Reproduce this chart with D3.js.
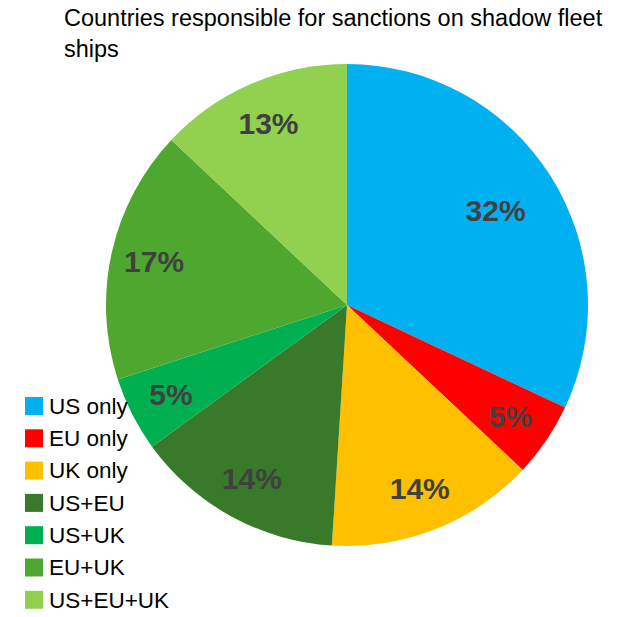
<!DOCTYPE html>
<html><head><meta charset="utf-8">
<script src="https://cdn.jsdelivr.net/npm/d3@7"></script>
<style>body{margin:0;background:#fff}</style>
</head><body>
<svg id="chart" width="640" height="617"></svg>
<script>
const categories = ["US only", "EU only", "UK only", "US+EU", "US+UK", "EU+UK", "US+EU+UK"];
const values = [32, 5, 14, 14, 5, 17, 13];
const colors = ["#00B0F0", "#FF0000", "#FFC000", "#38792A", "#00B050", "#4EA72E", "#92D050"];

const svg = d3.select("#chart");
const font = "'Liberation Sans', Arial, sans-serif";
const cx = 347, cy = 305, r = 241;

// title
svg.append("text").attr("x", 64).attr("y", 26).attr("font-family", font)
  .attr("font-size", 23.5).attr("fill", "#000").text("Countries responsible for sanctions on shadow fleet");
svg.append("text").attr("x", 64).attr("y", 57).attr("font-family", font)
  .attr("font-size", 23.5).attr("fill", "#000").text("ships");

const pie = d3.pie().sort(null).value(d => d);
const arcs = pie(values);
const arc = d3.arc().innerRadius(0).outerRadius(r);
// big slices get labels nearer the middle, small ones further out
const labelPos = d => {
  const k = (d.endAngle - d.startAngle) > 1.5 ? 0.73 : 0.82;
  return d3.arc().innerRadius(r * k).outerRadius(r * k).centroid(d);
};

const g = svg.append("g").attr("transform", `translate(${cx},${cy})`);
g.selectAll("path").data(arcs).enter().append("path")
  .attr("d", arc).attr("fill", (d, i) => colors[i]);

g.selectAll("text").data(arcs).enter().append("text")
  .attr("transform", d => `translate(${labelPos(d)})`)
  .attr("text-anchor", "middle").attr("dy", "0.35em")
  .attr("font-family", font).attr("font-size", 30).attr("font-weight", "bold")
  .attr("fill", "#404040")
  .text(d => d.data + "%");

// legend
const legend = svg.append("g").attr("transform", "translate(25,397)");
const items = legend.selectAll("g").data(categories).enter().append("g")
  .attr("transform", (d, i) => `translate(0,${i * 32.3})`);
items.append("rect").attr("width", 18).attr("height", 18).attr("fill", (d, i) => colors[i]);
items.append("text").attr("x", 24).attr("y", 9).attr("dy", "0.35em")
  .attr("font-family", font).attr("font-size", 22.5).attr("fill", "#000").text(d => d);
</script>
</body></html>
